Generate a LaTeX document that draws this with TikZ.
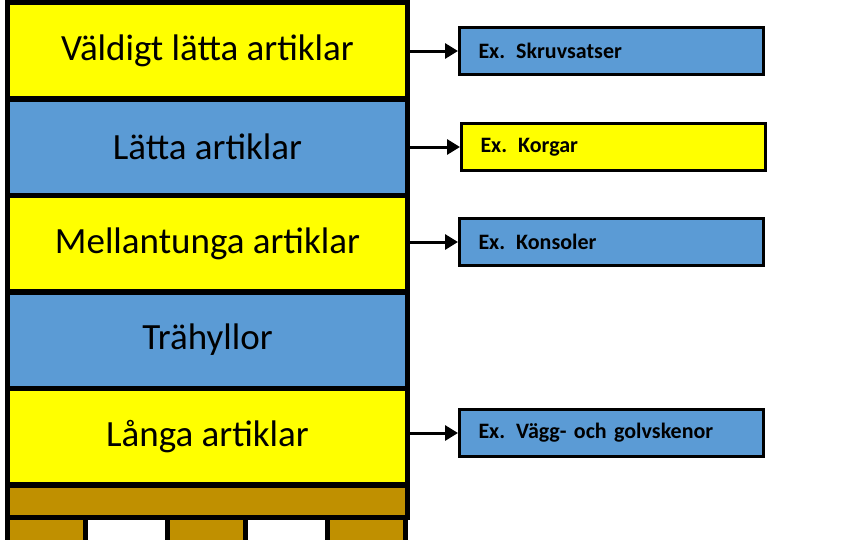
\documentclass[tikz,border=0pt]{standalone}
\usepackage{fontspec}
\setmainfont{Carlito}
\usetikzlibrary{arrows.meta}
\definecolor{yel}{HTML}{FFFF00}
\definecolor{blu}{HTML}{5B9BD5}
\definecolor{brn}{HTML}{C09000}
\begin{document}
\begin{tikzpicture}[x=1pt,y=-1pt,
  layer/.style={draw=black,line width=5pt,minimum width=400pt,minimum height=96pt,inner sep=0pt,font=\fontsize{37}{42}\selectfont,anchor=north west},
  ex/.style={draw=black,line width=3pt,minimum width=304pt,minimum height=47pt,inner sep=0pt,anchor=west,font=\bfseries\fontsize{22}{26}\selectfont,text width=266pt,align=left},
  arr/.style={line width=3pt,-{Triangle[length=13pt,width=15pt]}}]
\useasboundingbox (0,0) rectangle (844,539);
\node[layer,fill=yel] (l1) at (5,0) {Väldigt lätta artiklar};
\node[layer,fill=blu] (l2) at (5,96.5) {Lätta artiklar};
\node[layer,fill=yel] (l3) at (5,193) {Mellantunga artiklar};
\node[layer,fill=blu] (l4) at (5,289.5) {Trähyllor};
\node[layer,fill=yel] (l5) at (5,386) {Långa artiklar};
\node[draw=black,line width=5pt,fill=brn,minimum width=400pt,minimum height=32pt,anchor=north west,inner sep=0pt] (p) at (5,483) {};
\foreach \x/\n in {5/f1,165/f2,325/f3}
  \node[draw=black,line width=5pt,fill=brn,minimum width=78pt,minimum height=26pt,anchor=north west,inner sep=0pt] (\n) at (\x,515) {};
\node[ex,fill=blu] (e1) at (458,51) {Ex. Skruvsatser};
\node[ex,fill=yel] (e2) at (460,147) {Ex. Korgar};
\node[ex,fill=blu] (e3) at (458,242) {Ex. Konsoler};
\node[ex,fill=blu] (e4) at (458,433) {Ex. Vägg- och golvskenor};
\draw[arr] (l1.east|-e1.west) -- (e1.west);
\draw[arr] (l2.east|-e2.west) -- (e2.west);
\draw[arr] (l3.east|-e3.west) -- (e3.west);
\draw[arr] (l5.east|-e4.west) -- (e4.west);
\end{tikzpicture}
\end{document}
